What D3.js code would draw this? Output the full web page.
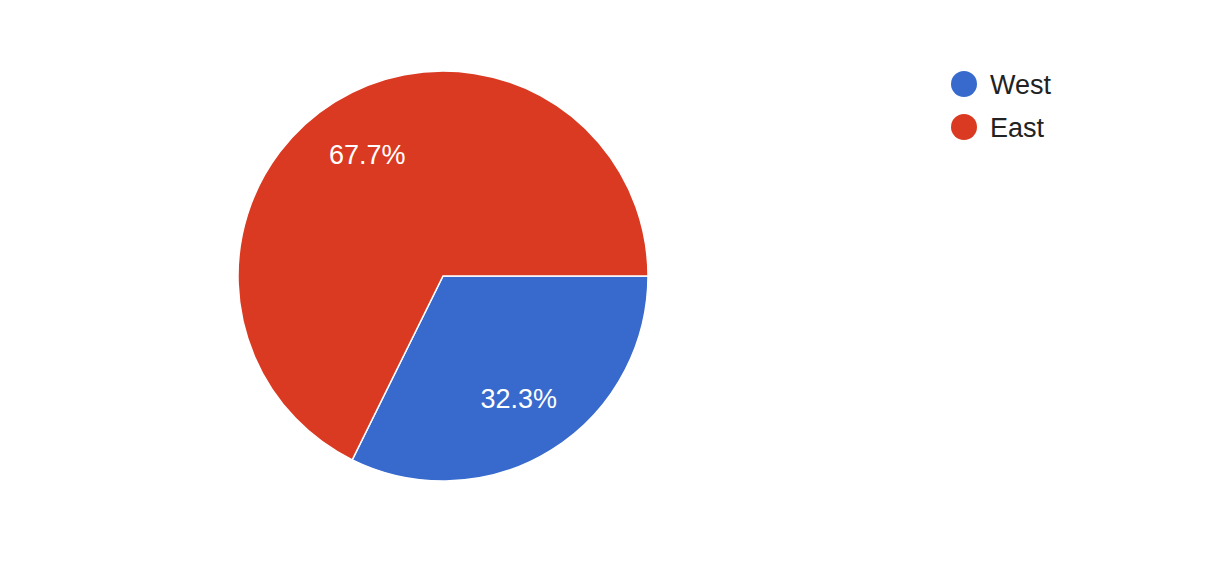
<!DOCTYPE html>
<html><head><meta charset="utf-8">
<script src="https://cdn.jsdelivr.net/npm/d3@7"></script>
<style>html,body{margin:0;padding:0;background:#fff;}svg{display:block;}</style>
</head><body>
<svg id="chart" width="1214" height="565"></svg>
<script>
const categories = ["West", "East"];
const values = [32.3, 67.7];
const colors = ["#376acc", "#da3a22"];

const svg = d3.select("#chart");
const cx = 443, cy = 276, r = 205;
const font = "Arial, 'Liberation Sans', sans-serif";

const pie = d3.pie().sort(null).value(d => d.v)
  .startAngle(Math.PI / 2).endAngle(Math.PI / 2 + 2 * Math.PI);
const data = categories.map((c, i) => ({c, v: values[i], col: colors[i]}));
const arcs = pie(data);
const arc = d3.arc().innerRadius(0).outerRadius(r);
const labelArc = d3.arc().innerRadius(r * 0.7).outerRadius(r * 0.7);

const g = svg.append("g").attr("transform", `translate(${cx},${cy})`);
g.selectAll("path").data(arcs).enter().append("path")
  .attr("d", arc).attr("fill", d => d.data.col)
  .attr("stroke", "#fff").attr("stroke-width", 1.5);

const total = d3.sum(values);
g.selectAll("text").data(arcs).enter().append("text")
  .attr("transform", d => `translate(${labelArc.centroid(d)})`)
  .attr("text-anchor", "middle").attr("dy", "0.36em")
  .attr("font-family", font).attr("font-size", 27).attr("fill", "#fff")
  .text(d => (d.data.v / total * 100).toFixed(1) + "%");

const leg = svg.append("g");
const items = leg.selectAll("g").data(data).enter().append("g")
  .attr("transform", (d, i) => `translate(964,${84 + i * 43})`);
items.append("circle").attr("r", 13).attr("fill", d => d.col);
items.append("text").attr("x", 26).attr("dy", "0.36em")
  .attr("font-family", font).attr("font-size", 27).attr("fill", "#222")
  .text(d => d.c);
</script>
</body></html>
